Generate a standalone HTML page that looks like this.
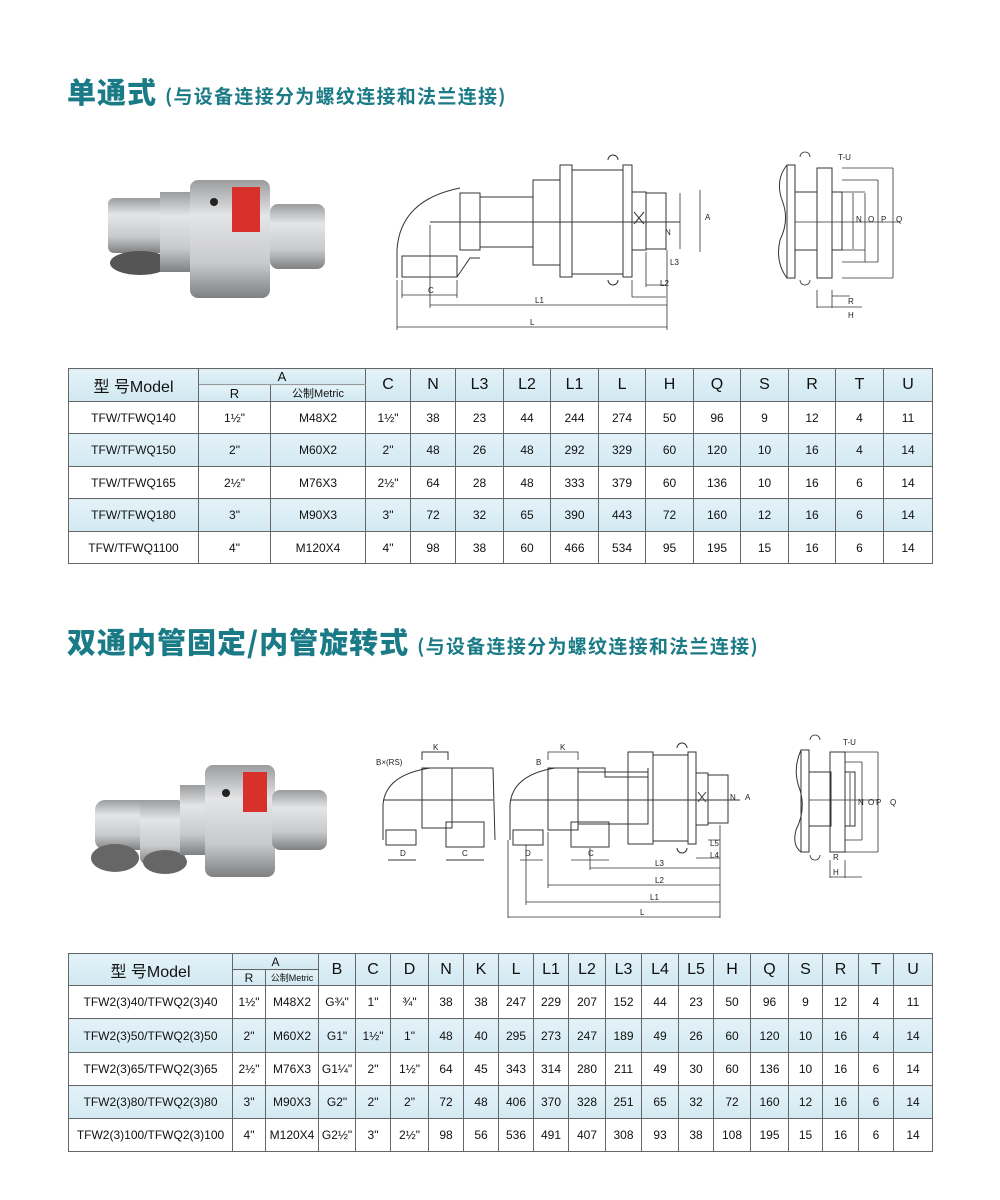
<!DOCTYPE html>
<html><head><meta charset="utf-8"><style>
body{margin:0;background:#fff;width:1000px;height:1200px;position:relative;overflow:hidden;font-family:"Liberation Sans","Noto Sans CJK SC",sans-serif}
.t{position:absolute;color:#1a7b87;font-weight:bold;font-family:"Noto Sans CJK SC","WenQuanYi Zen Hei",sans-serif;white-space:nowrap}
.t b{font-size:29px;letter-spacing:1px}.t span{font-size:19px;letter-spacing:1.3px;margin-left:8px}
table{position:absolute;border-collapse:collapse;table-layout:fixed;font-family:"Liberation Sans","Noto Sans CJK SC",sans-serif;color:#111}
td{border:1px solid #666;text-align:center;padding:0;font-size:12px;overflow:hidden;white-space:nowrap}
tr.b td{background:linear-gradient(#e4f2f8,#d2e9f2)}
.h td{background:linear-gradient(#e4f2f8,#d0e8f1);font-size:16px}
.sub{font-size:11px!important}
svg{position:absolute;left:0;top:0}
</style></head><body>
<div class="t" style="left:67px;top:70px"><b>单通式</b><span>(与设备连接分为螺纹连接和法兰连接)</span></div>
<div class="t" style="left:67px;top:620px"><b>双通内管固定/内管旋转式</b><span>(与设备连接分为螺纹连接和法兰连接)</span></div>

<svg width="1000" height="1200" viewBox="0 0 1000 1200">
<defs><linearGradient id="g" x1="0" y1="0" x2="0" y2="1"><stop offset="0" stop-color="#9a9c9e"/><stop offset=".3" stop-color="#e4e5e6"/><stop offset=".7" stop-color="#c9cacc"/><stop offset="1" stop-color="#7e8082"/></linearGradient></defs>
<g>
<rect x="108" y="198" width="60" height="55" rx="6" fill="url(#g)"/>
<ellipse cx="140" cy="263" rx="30" ry="12" fill="#555"/>
<rect x="160" y="192" width="40" height="80" fill="url(#g)"/>
<rect x="190" y="180" width="80" height="118" rx="8" fill="url(#g)"/>
<rect x="270" y="204" width="55" height="65" rx="8" fill="url(#g)"/>
<rect x="232" y="187" width="28" height="45" fill="#d8302a"/>
<circle cx="214" cy="202" r="4" fill="#222"/>
</g>
<g>
<rect x="95" y="800" width="60" height="50" rx="10" fill="url(#g)"/>
<ellipse cx="115" cy="858" rx="24" ry="14" fill="#666"/>
<rect x="140" y="800" width="45" height="65" rx="8" fill="url(#g)"/>
<ellipse cx="165" cy="862" rx="22" ry="12" fill="#666"/>
<rect x="180" y="785" width="40" height="70" fill="url(#g)"/>
<rect x="205" y="765" width="70" height="112" rx="8" fill="url(#g)"/>
<rect x="272" y="790" width="55" height="60" rx="8" fill="url(#g)"/>
<rect x="243" y="772" width="24" height="40" fill="#d8302a"/>
<circle cx="226" cy="793" r="4" fill="#222"/>
</g>
<g fill="none" stroke="#333" stroke-width="1">
<path d="M397 278 L397 250 Q400 200 460 188"/>
<rect x="402" y="256" width="55" height="21"/>
<path d="M457 277 L470 258 L480 258 M460 193 h20 v57 h-20 z"/>
<rect x="480" y="197" width="53" height="50"/>
<rect x="533" y="180" width="27" height="85"/>
<rect x="560" y="165" width="12" height="112"/>
<rect x="572" y="170" width="51" height="104"/>
<rect x="623" y="165" width="9" height="112"/>
<rect x="632" y="192" width="14" height="58"/>
<rect x="646" y="193" width="20" height="56"/>
<path d="M634 212 l10 12 M644 212 l-10 12 M430 222 H680 M608 160 a5 5 0 0 1 10 0 M608 280 a5 5 0 0 0 10 0"/>
<path d="M402 295 H457 M430 305 H667 M397 327 H667 M667 250 V330 M402 280V298 M457 280V298 M397 280V330 M430 225V308 M646 252V287 M632 280V297 M646 285H666 M632 297H666 M666 195V250 M680 193V249 M700 190V252" stroke-width=".8"/>
<path d="M787 165 Q775 180 782 200 Q790 220 780 240 Q775 262 787 278"/>
<rect x="787" y="165" width="8" height="113"/>
<rect x="795" y="192" width="22" height="58"/>
<rect x="817" y="168" width="15" height="110"/>
<rect x="832" y="192" width="10" height="58"/>
<path d="M795 222H900 M842 168H893 M842 180H878 M842 192H865 M842 250H865 M842 262H878 M842 278H893 M853 193V249 M865 193V262 M878 180V262 M893 168V278 M800 157 a5 5 0 0 1 10 0 M800 280 a5 5 0 0 0 10 0 M817 290V308 M832 290V308 M817 307H862 M832 296H850" stroke-width=".8"/>
<path d="M383 840 V805 Q385 775 430 768 H493 L495 840"/>
<rect x="386" y="830" width="30" height="15"/>
<rect x="446" y="822" width="38" height="25"/>
<rect x="422" y="768" width="30" height="60"/>
<path d="M388 860H416 M446 860H484 M422 760V752H448V760 M383 800H493"/>
<path d="M510 840 V805 Q512 775 555 768 H605 V777 H648 V768"/>
<rect x="513" y="830" width="30" height="15"/>
<rect x="571" y="822" width="38" height="25"/>
<rect x="548" y="768" width="30" height="62"/>
<rect x="578" y="772" width="70" height="52"/>
<rect x="628" y="752" width="25" height="92"/>
<rect x="653" y="755" width="35" height="86"/>
<rect x="688" y="752" width="8" height="92"/>
<rect x="696" y="773" width="12" height="52"/>
<rect x="708" y="775" width="20" height="48"/>
<path d="M698 792 l8 10 M706 792 l-8 10 M510 800H740 M677 748 a5 5 0 0 1 10 0 M677 848 a5 5 0 0 0 10 0"/>
<path d="M520 860H543 M571 860H609 M590 868H720 M548 885H720 M526 902H720 M508 917H720 M720 825V918 M508 840V918 M526 845V905 M548 832V888 M590 848V870 M696 858H720 M708 840H720 M548 760V752H578V760" stroke-width=".8"/>
<path d="M801 750 Q792 770 800 790 Q806 810 796 830 Q792 845 801 852"/>
<rect x="801" y="750" width="8" height="102"/>
<rect x="809" y="772" width="22" height="54"/>
<rect x="830" y="752" width="15" height="100"/>
<rect x="845" y="772" width="10" height="54"/>
<path d="M809 800H878 M845 752H878 M845 762H862 M845 772H850 M845 826H850 M845 840H862 M845 852H878 M850 773V826 M862 762V840 M878 752V852 M810 740 a5 5 0 0 1 10 0 M810 855 a5 5 0 0 0 10 0 M830 860V878 M845 860V878 M830 877H862" stroke-width=".8"/>
</g>
<g font-family="Liberation Sans" font-size="8" fill="#222">
<text x="428" y="293">C</text><text x="535" y="303">L1</text><text x="530" y="325">L</text><text x="665" y="235">N</text><text x="705" y="220">A</text><text x="670" y="265">L3</text><text x="660" y="286">L2</text>
<text x="838" y="160">T-U</text><text x="856" y="222">N</text><text x="868" y="222">O</text><text x="881" y="222">P</text><text x="896" y="222">Q</text><text x="848" y="304">R</text><text x="848" y="318">H</text>
<text x="376" y="765">B×(RS)</text><text x="433" y="750">K</text><text x="400" y="856">D</text><text x="462" y="856">C</text>
<text x="536" y="765">B</text><text x="560" y="750">K</text><text x="525" y="856">D</text><text x="588" y="856">C</text><text x="655" y="866">L3</text><text x="655" y="883">L2</text><text x="650" y="900">L1</text><text x="640" y="915">L</text><text x="710" y="846">L5</text><text x="710" y="858">L4</text><text x="730" y="800">N</text><text x="745" y="800">A</text>
<text x="843" y="745">T-U</text><text x="858" y="805">N</text><text x="868" y="805">O</text><text x="876" y="805">P</text><text x="890" y="805">Q</text><text x="833" y="860">R</text><text x="833" y="875">H</text>
</g>
</svg>

<table style="left:68px;top:368px;width:864px">
<colgroup><col style="width:130px"><col style="width:72px"><col style="width:95px"><col style="width:45px"><col style="width:45px"><col style="width:48px"><col style="width:47px"><col style="width:48px"><col style="width:47px"><col style="width:48px"><col style="width:47px"><col style="width:48px"><col style="width:47px"><col style="width:48px"><col style="width:49px"></colgroup>
<tr class="h" style="height:16px"><td rowspan="2">型 号Model</td><td colspan="2" style="font-size:13px;border-bottom:1px solid #999">A</td><td rowspan="2">C</td><td rowspan="2">N</td><td rowspan="2">L3</td><td rowspan="2">L2</td><td rowspan="2">L1</td><td rowspan="2">L</td><td rowspan="2">H</td><td rowspan="2">Q</td><td rowspan="2">S</td><td rowspan="2">R</td><td rowspan="2">T</td><td rowspan="2">U</td></tr>
<tr class="h" style="height:16px"><td style="font-size:13px">R</td><td class="sub">公制Metric</td></tr>
<tr style="height:32px"><td>TFW/TFWQ140</td><td>1½"</td><td>M48X2</td><td>1½"</td><td>38</td><td>23</td><td>44</td><td>244</td><td>274</td><td>50</td><td>96</td><td>9</td><td>12</td><td>4</td><td>11</td></tr>
<tr class="b" style="height:33px"><td>TFW/TFWQ150</td><td>2"</td><td>M60X2</td><td>2"</td><td>48</td><td>26</td><td>48</td><td>292</td><td>329</td><td>60</td><td>120</td><td>10</td><td>16</td><td>4</td><td>14</td></tr>
<tr style="height:32px"><td>TFW/TFWQ165</td><td>2½"</td><td>M76X3</td><td>2½"</td><td>64</td><td>28</td><td>48</td><td>333</td><td>379</td><td>60</td><td>136</td><td>10</td><td>16</td><td>6</td><td>14</td></tr>
<tr class="b" style="height:33px"><td>TFW/TFWQ180</td><td>3"</td><td>M90X3</td><td>3"</td><td>72</td><td>32</td><td>65</td><td>390</td><td>443</td><td>72</td><td>160</td><td>12</td><td>16</td><td>6</td><td>14</td></tr>
<tr style="height:32px"><td>TFW/TFWQ1100</td><td>4"</td><td>M120X4</td><td>4"</td><td>98</td><td>38</td><td>60</td><td>466</td><td>534</td><td>95</td><td>195</td><td>15</td><td>16</td><td>6</td><td>14</td></tr>
</table>

<table style="left:68px;top:953px;width:864px">
<colgroup><col style="width:164px"><col style="width:33px"><col style="width:53px"><col style="width:37px"><col style="width:35px"><col style="width:38px"><col style="width:35px"><col style="width:35px"><col style="width:35px"><col style="width:35px"><col style="width:37px"><col style="width:36px"><col style="width:37px"><col style="width:35px"><col style="width:37px"><col style="width:38px"><col style="width:34px"><col style="width:36px"><col style="width:35px"><col style="width:39px"></colgroup>
<tr class="h" style="height:16px"><td rowspan="2">型 号Model</td><td colspan="2" style="font-size:12px">A</td><td rowspan="2">B</td><td rowspan="2">C</td><td rowspan="2">D</td><td rowspan="2">N</td><td rowspan="2">K</td><td rowspan="2">L</td><td rowspan="2">L1</td><td rowspan="2">L2</td><td rowspan="2">L3</td><td rowspan="2">L4</td><td rowspan="2">L5</td><td rowspan="2">H</td><td rowspan="2">Q</td><td rowspan="2">S</td><td rowspan="2">R</td><td rowspan="2">T</td><td rowspan="2">U</td></tr>
<tr class="h" style="height:16px"><td style="font-size:12px">R</td><td class="sub" style="font-size:9px!important">公制Metric</td></tr>
<tr style="height:33px"><td>TFW2(3)40/TFWQ2(3)40</td><td>1½"</td><td>M48X2</td><td>G¾"</td><td>1"</td><td>¾"</td><td>38</td><td>38</td><td>247</td><td>229</td><td>207</td><td>152</td><td>44</td><td>23</td><td>50</td><td>96</td><td>9</td><td>12</td><td>4</td><td>11</td></tr>
<tr class="b" style="height:34px"><td>TFW2(3)50/TFWQ2(3)50</td><td>2"</td><td>M60X2</td><td>G1"</td><td>1½"</td><td>1"</td><td>48</td><td>40</td><td>295</td><td>273</td><td>247</td><td>189</td><td>49</td><td>26</td><td>60</td><td>120</td><td>10</td><td>16</td><td>4</td><td>14</td></tr>
<tr style="height:33px"><td>TFW2(3)65/TFWQ2(3)65</td><td>2½"</td><td>M76X3</td><td>G1¼"</td><td>2"</td><td>1½"</td><td>64</td><td>45</td><td>343</td><td>314</td><td>280</td><td>211</td><td>49</td><td>30</td><td>60</td><td>136</td><td>10</td><td>16</td><td>6</td><td>14</td></tr>
<tr class="b" style="height:33px"><td>TFW2(3)80/TFWQ2(3)80</td><td>3"</td><td>M90X3</td><td>G2"</td><td>2"</td><td>2"</td><td>72</td><td>48</td><td>406</td><td>370</td><td>328</td><td>251</td><td>65</td><td>32</td><td>72</td><td>160</td><td>12</td><td>16</td><td>6</td><td>14</td></tr>
<tr style="height:33px"><td>TFW2(3)100/TFWQ2(3)100</td><td>4"</td><td>M120X4</td><td>G2½"</td><td>3"</td><td>2½"</td><td>98</td><td>56</td><td>536</td><td>491</td><td>407</td><td>308</td><td>93</td><td>38</td><td>108</td><td>195</td><td>15</td><td>16</td><td>6</td><td>14</td></tr>
</table>
</body></html>
